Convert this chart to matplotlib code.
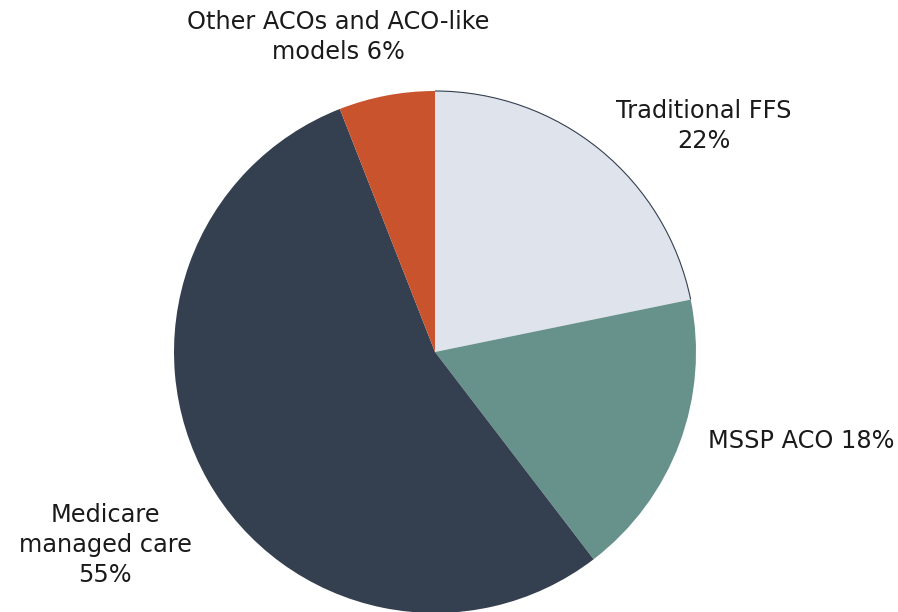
import matplotlib
matplotlib.use('Agg')
import matplotlib.pyplot as plt
from matplotlib.patches import Arc

plt.rcParams['font.family'] = ['DejaVu Sans']

labels = ['Traditional FFS\n22%', 'MSSP ACO 18%',
          'Medicare\nmanaged care\n55%', 'Other ACOs and ACO-like\nmodels 6%']
shares = [22, 18, 55, 6]
colors = ['#DFE3EB', '#67928C', '#343F50', '#C9532D']

W, H = 898, 612
fig = plt.figure(figsize=(W / 100, H / 100), dpi=100)
ax = fig.add_axes([0, 0, 1, 1])

cx, cy, r = 435, H - 352, 261
wedges, _ = ax.pie(shares, colors=colors, startangle=90, counterclock=False,
                   center=(cx, cy), radius=r, frame=True)
ax.set_xlim(0, W)
ax.set_ylim(0, H)
ax.axis('off')

# thin outline on the outer arc of the light wedge
w0 = wedges[0]
ax.add_patch(Arc((cx, cy), 2 * r, 2 * r, theta1=w0.theta1, theta2=w0.theta2,
                 color='#343F50', lw=0.8))

# label positions in pixel coordinates (x, y from top)
pos = [(704, 126), (801, 441), (105, 545), (338, 37)]
for lab, (x, y) in zip(labels, pos):
    ax.text(x, H - y, lab, ha='center', va='center', fontsize=17.3,
            color='#1a1a1a', linespacing=1.3)

fig.savefig('out.png', dpi=100)
